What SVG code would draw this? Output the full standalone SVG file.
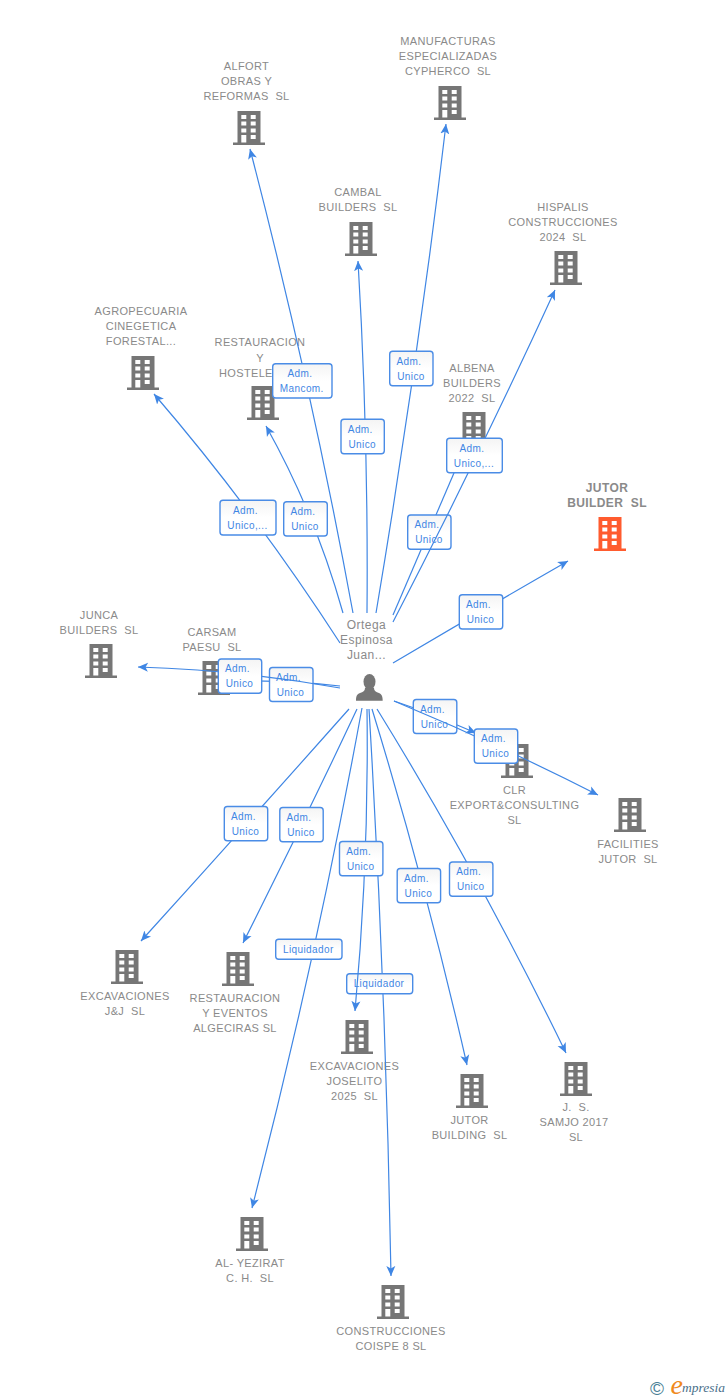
<svg xmlns="http://www.w3.org/2000/svg" width="728" height="1400" viewBox="0 0 728 1400">
<style>
text{font-family:"Liberation Sans",Arial,sans-serif;white-space:pre}
.n{font-size:11px;letter-spacing:.35px;fill:#8a8a8a;text-anchor:middle}
.t{font-size:12px;font-weight:bold;letter-spacing:.4px;fill:#8a8a8a;text-anchor:middle}
.p{font-size:12px;letter-spacing:.45px;fill:#8a8a8a;text-anchor:middle}
.l{font-size:10px;letter-spacing:.4px;fill:#3f86e4;text-anchor:middle}
.b{fill:url(#bg);stroke:#4a8ce6;stroke-width:1.4}
.e{fill:none;stroke:#3f86e4;stroke-width:1.2;marker-end:url(#a)}
.g{fill:#767676}
.o{fill:#ff5b2e}
</style>
<defs>
<linearGradient id="bg" x1="0" y1="0" x2="0" y2="1"><stop offset="0" stop-color="#f4f4f4"/><stop offset=".5" stop-color="#fff"/><stop offset="1" stop-color="#fff"/></linearGradient>
<marker id="a" markerUnits="userSpaceOnUse" markerWidth="14" markerHeight="14" refX="10" refY="6" orient="auto"><path d="M10,6 L0,1.5 L2.5,6 L0,10.5 Z" fill="#3f86e4"/></marker>
<symbol id="bld" overflow="visible">
<path fill-rule="evenodd" d="M-16,-2.5H-11.5V-34H11.5V-2.5H16V0H-16ZM-7.7,-30V-26H-2.7V-30ZM1.7,-30V-26H6.7V-30ZM-7.7,-23.5V-19.5H-2.7V-23.5ZM1.7,-23.5V-19.5H6.7V-23.5ZM-7.7,-16.5V-12.5H-2.7V-16.5ZM1.7,-16.5V-12.5H6.7V-16.5ZM-7.7,-10V-2.5H-2.7V-10ZM1.7,-10V-6H6.7V-10Z"/>
</symbol>
</defs>
<rect width="728" height="1400" fill="#fff"/>

<g id="node-alfort"><use href="#bld" x="249" y="145" class="g"/><text class="n" x="246.5" y="70">ALFORT</text><text class="n" x="246.5" y="85">OBRAS Y</text><text class="n" x="246.5" y="100">REFORMAS  SL</text></g>
<g id="node-manufacturas"><use href="#bld" x="450" y="120" class="g"/><text class="n" x="448" y="45">MANUFACTURAS</text><text class="n" x="448" y="60">ESPECIALIZADAS</text><text class="n" x="448" y="75">CYPHERCO  SL</text></g>
<g id="node-cambal"><use href="#bld" x="361" y="256" class="g"/><text class="n" x="358" y="196">CAMBAL</text><text class="n" x="358" y="211">BUILDERS  SL</text></g>
<g id="node-hispalis"><use href="#bld" x="566" y="285" class="g"/><text class="n" x="563" y="211">HISPALIS</text><text class="n" x="563" y="226">CONSTRUCCIONES</text><text class="n" x="563" y="241">2024  SL</text></g>
<g id="node-agropecuaria"><use href="#bld" x="143" y="390" class="g"/><text class="n" x="141" y="315">AGROPECUARIA</text><text class="n" x="141" y="330">CINEGETICA</text><text class="n" x="141" y="345">FORESTAL...</text></g>
<g id="node-restauracion-hostele"><use href="#bld" x="263" y="420" class="g"/><text class="n" x="260" y="346">RESTAURACION</text><text class="n" x="260" y="362">Y</text><text class="n" x="219" y="377" style="text-anchor:start">HOSTELE</text></g>
<g id="node-albena"><use href="#bld" x="474" y="446" class="g"/><text class="n" x="472" y="372">ALBENA</text><text class="n" x="472" y="387">BUILDERS</text><text class="n" x="472" y="402">2022  SL</text></g>
<g id="node-jutor-builder"><use href="#bld" x="610" y="551" class="o"/><text class="t" x="607" y="492">JUTOR</text><text class="t" x="607" y="507">BUILDER  SL</text></g>
<g id="node-junca"><use href="#bld" x="101" y="678" class="g"/><text class="n" x="99" y="619">JUNCA</text><text class="n" x="99" y="634">BUILDERS  SL</text></g>
<g id="node-carsam"><use href="#bld" x="214" y="695" class="g"/><text class="n" x="212" y="636">CARSAM</text><text class="n" x="212" y="651">PAESU  SL</text></g>
<g id="node-clr"><use href="#bld" x="517" y="778" class="g"/><text class="n" x="514.5" y="794">CLR</text><text class="n" x="514.5" y="809">EXPORT&amp;CONSULTING</text><text class="n" x="514.5" y="824">SL</text></g>
<g id="node-facilities"><use href="#bld" x="630" y="832" class="g"/><text class="n" x="628" y="848">FACILITIES</text><text class="n" x="628" y="863">JUTOR  SL</text></g>
<g id="node-excavaciones-jj"><use href="#bld" x="127" y="984" class="g"/><text class="n" x="125" y="1000">EXCAVACIONES</text><text class="n" x="125" y="1015">J&amp;J  SL</text></g>
<g id="node-restauracion-eventos"><use href="#bld" x="238" y="986" class="g"/><text class="n" x="235" y="1002">RESTAURACION</text><text class="n" x="235" y="1017">Y EVENTOS</text><text class="n" x="235" y="1032">ALGECIRAS SL</text></g>
<g id="node-joselito"><use href="#bld" x="357" y="1054" class="g"/><text class="n" x="354.5" y="1070">EXCAVACIONES</text><text class="n" x="354.5" y="1085">JOSELITO</text><text class="n" x="354.5" y="1100">2025  SL</text></g>
<g id="node-jutor-building"><use href="#bld" x="472" y="1108" class="g"/><text class="n" x="469.5" y="1124">JUTOR</text><text class="n" x="469.5" y="1139">BUILDING  SL</text></g>
<g id="node-samjo"><use href="#bld" x="576" y="1096" class="g"/><text class="n" x="576" y="1111">J.  S.</text><text class="n" x="574" y="1126">SAMJO 2017</text><text class="n" x="576" y="1141">SL</text></g>
<g id="node-yezirat"><use href="#bld" x="252" y="1251" class="g"/><text class="n" x="250" y="1267">AL- YEZIRAT</text><text class="n" x="250" y="1282">C. H.  SL</text></g>
<g id="node-coispe"><use href="#bld" x="393" y="1319" class="g"/><text class="n" x="391" y="1335">CONSTRUCCIONES</text><text class="n" x="391" y="1350">COISPE 8 SL</text></g>

<g id="node-person"><text class="p" x="366.5" y="629">Ortega</text><text class="p" x="366.5" y="644">Espinosa</text><text class="p" x="366.5" y="659">Juan...</text>
<ellipse class="g" cx="369.5" cy="681.7" rx="6" ry="7.8"/><path class="g" d="M365,688 C365,691 363,692 360,693 C357,694 356,696 356,700.7 H382.7 C382.7,696 381.5,694 379,693 C376,692 374,691 374,688 Z"/></g>

<g id="connectors-lower">
<path class="e" d="M340,686 Q290,680 236,681"/>
<path class="e" d="M393,615 L463,452"/>
<path class="e" d="M394,701 Q430,713 476,733"/>
<path class="e" d="M369,709 Q386,992 391,1276"/>
</g>
<g id="labels-lower">
<g><rect class="b" x="269.5" y="667.5" width="43.5" height="34" rx="3"/><text class="l" x="288.5" y="680.8">Adm.</text><text class="l" x="290.5" y="695.8">Unico</text></g>
<g><rect class="b" x="407.7" y="515" width="43.3" height="34.3" rx="3"/><text class="l" x="427" y="528.3">Adm.</text><text class="l" x="429" y="543.3">Unico</text></g>
<g><rect class="b" x="413.3" y="699.5" width="43.5" height="34" rx="3"/><text class="l" x="432.5" y="712.8">Adm.</text><text class="l" x="434.5" y="727.8">Unico</text></g>
<g><rect class="b" x="346.7" y="973.7" width="66" height="20" rx="3"/><text class="l" x="379" y="987">Liquidador</text></g>
</g>
<g id="connectors-upper">
<path class="e" d="M353,613 Q310.5,381.5 250,149"/>
<path class="e" d="M367,613 Q368.5,438.5 358,261"/>
<path class="e" d="M376,613 Q417,369 446,124"/>
<path class="e" d="M393,622 Q479,456 555,290"/>
<path class="e" d="M340,643 Q255,511.5 154,394"/>
<path class="e" d="M343,613 Q315.5,514.5 266,426"/>
<path class="e" d="M393,663 Q481,611 568,561"/>
<path class="e" d="M340,688 Q240,670 138,667"/>
<path class="e" d="M394,701 Q500,745 598,795"/>
<path class="e" d="M349,709 Q246,825 141,941"/>
<path class="e" d="M357,709 Q303,824 243,943"/>
<path class="e" d="M367,709 Q369,860 355,1011"/>
<path class="e" d="M362,708 Q316,960 252,1208"/>
<path class="e" d="M372,709 Q426,885 467,1065"/>
<path class="e" d="M377,709 Q480,876 566,1053"/>
</g>
<g id="labels-upper">
<g><rect class="b" x="272.7" y="363.7" width="59.3" height="34.3" rx="3"/><text class="l" x="300" y="377">Adm.</text><text class="l" x="301.8" y="392">Mancom.</text></g>
<g><rect class="b" x="341" y="419.3" width="43.3" height="34.5" rx="3"/><text class="l" x="360.3" y="432.6">Adm.</text><text class="l" x="362.3" y="447.6">Unico</text></g>
<g><rect class="b" x="389.7" y="351.3" width="43.3" height="34.4" rx="3"/><text class="l" x="409" y="364.6">Adm.</text><text class="l" x="411" y="379.6">Unico</text></g>
<g><rect class="b" x="446.7" y="438.3" width="55.6" height="34.4" rx="3"/><text class="l" x="472" y="451.6">Adm.</text><text class="l" x="474" y="466.6">Unico,...</text></g>
<g><rect class="b" x="220" y="500.3" width="56" height="34.7" rx="3"/><text class="l" x="245.5" y="513.6">Adm.</text><text class="l" x="247.5" y="528.6">Unico,...</text></g>
<g><rect class="b" x="283.7" y="501.7" width="43.6" height="34.3" rx="3"/><text class="l" x="303" y="515">Adm.</text><text class="l" x="305" y="530">Unico</text></g>
<g><rect class="b" x="218.3" y="659" width="43.4" height="34.3" rx="3"/><text class="l" x="237.5" y="672.3">Adm.</text><text class="l" x="239.5" y="687.3">Unico</text></g>
<g><rect class="b" x="459.3" y="594.7" width="43.4" height="34.3" rx="3"/><text class="l" x="478.5" y="608">Adm.</text><text class="l" x="480.5" y="623">Unico</text></g>
<g><rect class="b" x="474.3" y="729" width="43.4" height="34.3" rx="3"/><text class="l" x="493.5" y="742.3">Adm.</text><text class="l" x="495.5" y="757.3">Unico</text></g>
<g><rect class="b" x="224.3" y="806.5" width="43.4" height="34.3" rx="3"/><text class="l" x="243.5" y="819.8">Adm.</text><text class="l" x="245.5" y="834.8">Unico</text></g>
<g><rect class="b" x="279.8" y="807.5" width="43.4" height="34.3" rx="3"/><text class="l" x="299" y="820.8">Adm.</text><text class="l" x="301" y="835.8">Unico</text></g>
<g><rect class="b" x="339.5" y="841.5" width="43.4" height="34.3" rx="3"/><text class="l" x="358.7" y="855">Adm.</text><text class="l" x="360.7" y="870">Unico</text></g>
<g><rect class="b" x="397.2" y="868.5" width="43.4" height="34.3" rx="3"/><text class="l" x="416.4" y="881.8">Adm.</text><text class="l" x="418.4" y="896.8">Unico</text></g>
<g><rect class="b" x="449.5" y="862" width="43.4" height="34.3" rx="3"/><text class="l" x="468.7" y="875.3">Adm.</text><text class="l" x="470.7" y="890.3">Unico</text></g>
<g><rect class="b" x="275.7" y="939.3" width="66.3" height="20" rx="3"/><text class="l" x="308.3" y="952.7">Liquidador</text></g>
</g>

<g id="logo">
<text x="650" y="1394.5" style="font-size:19px;fill:#4a7f96">©</text>
<text x="670.5" y="1394" style="font-family:'Liberation Serif',serif;font-style:italic;font-size:28px;fill:#f08a1d">e</text>
<text x="682" y="1392" style="font-family:'Liberation Serif',serif;font-style:italic;font-size:13.5px;fill:#4a6f8a">mpresia</text>
</g>
</svg>
